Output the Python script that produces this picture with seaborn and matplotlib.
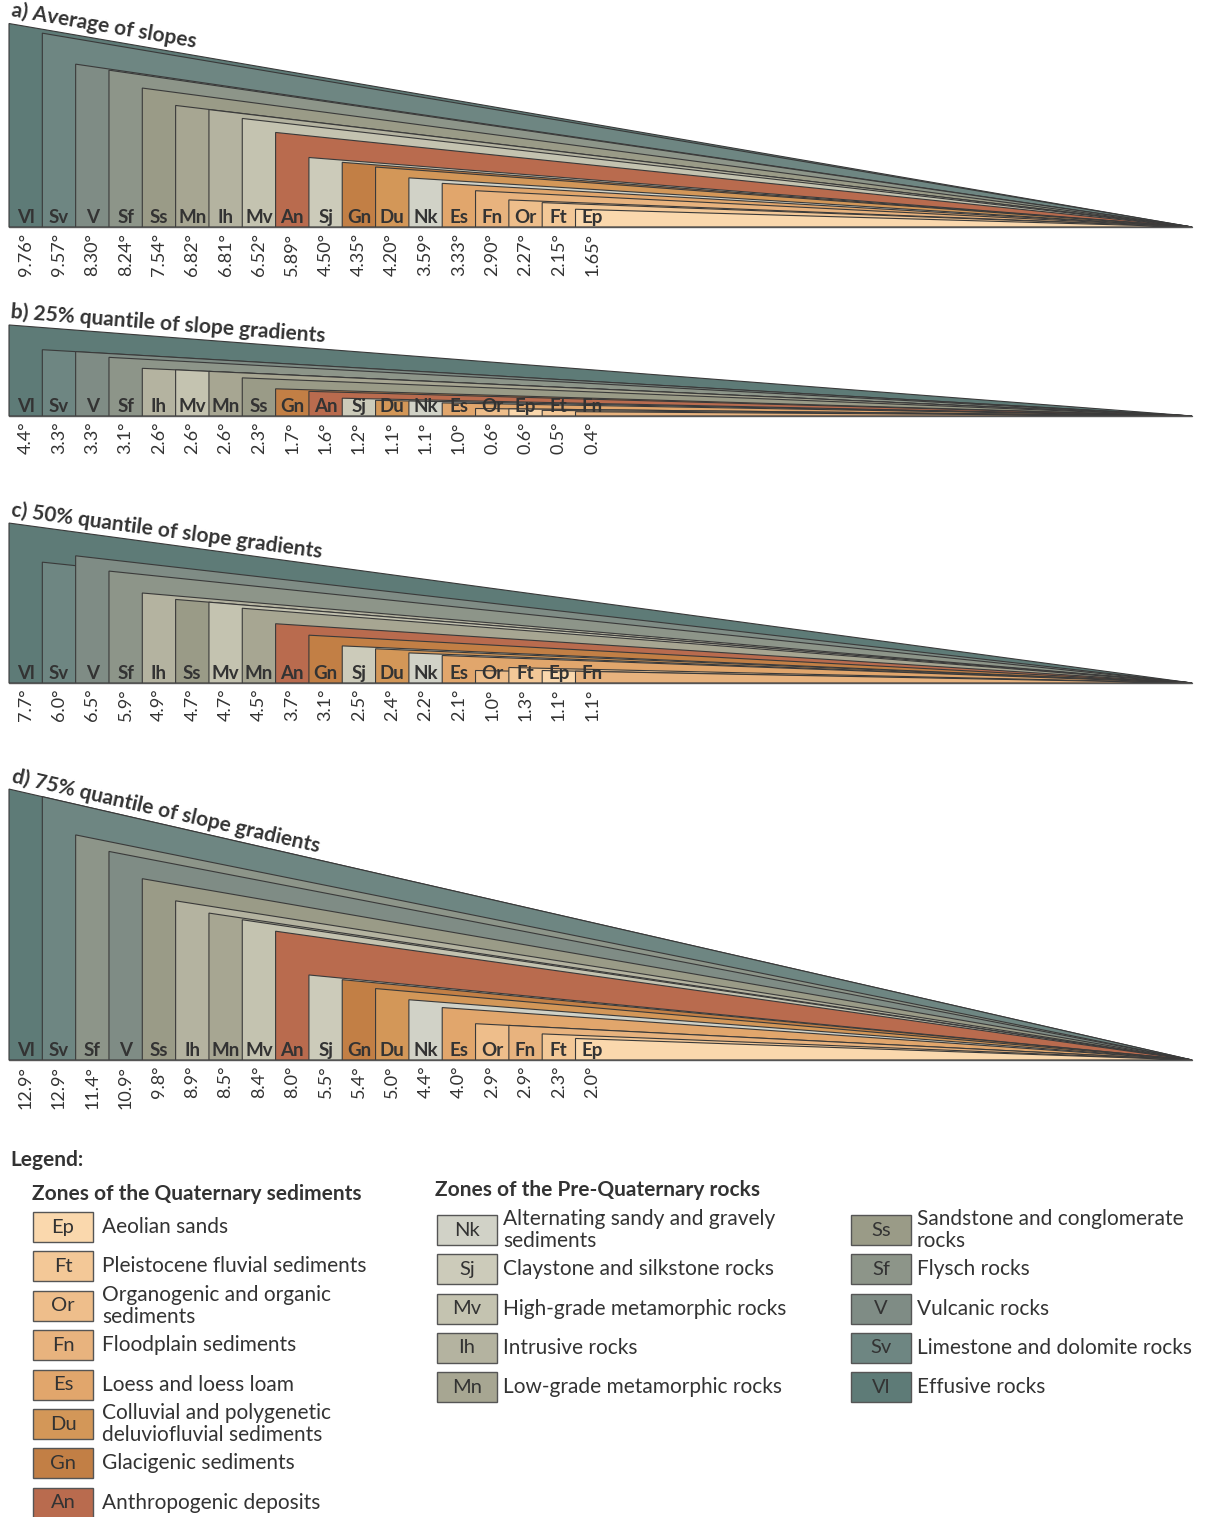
import numpy as np
import matplotlib.pyplot as plt
import seaborn as sns
from matplotlib.patches import Rectangle

sns.set_theme(style="white")
plt.rcParams['font.family'] = ['Lato', 'DejaVu Sans']

# ---- data (slope in degrees per zone, ordered as in each panel) ----
a_codes = ['Vl', 'Sv', 'V', 'Sf', 'Ss', 'Mn', 'Ih', 'Mv', 'An', 'Sj', 'Gn', 'Du', 'Nk', 'Es', 'Fn', 'Or', 'Ft', 'Ep']
a_vals = [9.76, 9.57, 8.30, 8.24, 7.54, 6.82, 6.81, 6.52, 5.89, 4.50, 4.35, 4.20, 3.59, 3.33, 2.90, 2.27, 2.15, 1.65]

b_codes = ['Vl', 'Sv', 'V', 'Sf', 'Ih', 'Mv', 'Mn', 'Ss', 'Gn', 'An', 'Sj', 'Du', 'Nk', 'Es', 'Or', 'Ep', 'Ft', 'Fn']
b_vals = [4.4, 3.3, 3.3, 3.1, 2.6, 2.6, 2.6, 2.3, 1.7, 1.6, 1.2, 1.1, 1.1, 1.0, 0.6, 0.6, 0.5, 0.4]

c_codes = ['Vl', 'Sv', 'V', 'Sf', 'Ih', 'Ss', 'Mv', 'Mn', 'An', 'Gn', 'Sj', 'Du', 'Nk', 'Es', 'Or', 'Ft', 'Ep', 'Fn']
c_vals = [7.7, 6.0, 6.5, 5.9, 4.9, 4.7, 4.7, 4.5, 3.7, 3.1, 2.5, 2.4, 2.2, 2.1, 1.0, 1.3, 1.1, 1.1]

d_codes = ['Vl', 'Sv', 'Sf', 'V', 'Ss', 'Ih', 'Mn', 'Mv', 'An', 'Sj', 'Gn', 'Du', 'Nk', 'Es', 'Or', 'Fn', 'Ft', 'Ep']
d_vals = [12.9, 12.9, 11.4, 10.9, 9.8, 8.9, 8.5, 8.4, 8.0, 5.5, 5.4, 5.0, 4.4, 4.0, 2.9, 2.9, 2.3, 2.0]

panel_titles = ['a) Average of slopes', 'b) 25% quantile of slope gradients',
                'c) 50% quantile of slope gradients', 'd) 75% quantile of slope gradients']
panel_decimals = [2, 1, 1, 1]

zone_colors = {
    'Vl': '#5e7b77', 'Sv': '#6e8682', 'V': '#7f8c85', 'Sf': '#8d9589',
    'Ss': '#9a9b87', 'Mn': '#a7a692', 'Ih': '#b4b3a0', 'Mv': '#c4c3b0',
    'Sj': '#cccbba', 'Nk': '#d1d2c7', 'An': '#b96b4e', 'Gn': '#c27f45',
    'Du': '#d39758', 'Es': '#e1a66c', 'Fn': '#e8b37e', 'Or': '#eebe8b',
    'Ft': '#f3c897', 'Ep': '#fad8ad',
}

quat_codes = ['Ep', 'Ft', 'Or', 'Fn', 'Es', 'Du', 'Gn', 'An']
quat_names = ['Aeolian sands', 'Pleistocene fluvial sediments', 'Organogenic and organic\nsediments',
              'Floodplain sediments', 'Loess and loess loam',
              'Colluvial and polygenetic\ndeluviofluvial sediments', 'Glacigenic sediments',
              'Anthropogenic deposits']
pre1_codes = ['Nk', 'Sj', 'Mv', 'Ih', 'Mn']
pre1_names = ['Alternating sandy and gravely\nsediments', 'Claystone and silkstone rocks',
              'High-grade metamorphic rocks', 'Intrusive rocks', 'Low-grade metamorphic rocks']
pre2_codes = ['Ss', 'Sf', 'V', 'Sv', 'Vl']
pre2_names = ['Sandstone and conglomerate\nrocks', 'Flysch rocks', 'Vulcanic rocks',
              'Limestone and dolomite rocks', 'Effusive rocks']

# ---- layout ----
W, H = 1206, 1517
fig = plt.figure(figsize=(W / 100, H / 100), dpi=100)
fig.patch.set_facecolor('white')

x_left, apex_px = 9, 1192
apex = 35.5                       # apex in column units
unit = (apex_px - x_left) / apex  # px per column
baselines = [227, 416, 683, 1060]
dark = '#333333'

panels = [(a_codes, a_vals), (b_codes, b_vals), (c_codes, c_vals), (d_codes, d_vals)]
for (codes, vals), base, title, dec in zip(panels, baselines, panel_titles, panel_decimals):
    heights = [np.tan(np.radians(v)) * (apex - i) for i, v in enumerate(vals)]
    ytop = max(heights) + 0.05
    ax = fig.add_axes([x_left / W, (H - base) / H, (apex_px - x_left) / W, ytop * unit / H])
    ax.set_xlim(0, apex)
    ax.set_ylim(0, ytop)
    ax.axis('off')
    for i, (c, h) in enumerate(zip(codes, heights)):
        ax.fill([i, i, apex], [0, h, 0], facecolor=zone_colors[c], edgecolor='#3a3a3a',
                linewidth=0.8, joinstyle='miter', clip_on=False)
    for i, (c, v) in enumerate(zip(codes, vals)):
        ax.text(i + 0.5, 0.02, c, ha='center', va='bottom', fontsize=13.5,
                fontweight='bold', color=dark, clip_on=False)
        ax.text(i + 0.5, -0.17, f"{v:.{dec}f}°", ha='center', va='top', rotation=90,
                fontsize=13, color=dark, clip_on=False)
    ax.plot([0, apex], [0, 0], color='#555555', lw=1.0, clip_on=False)
    ax.text(0.02, heights[0] + 0.1, title, rotation=-vals[0], rotation_mode='anchor',
            ha='left', va='bottom', fontsize=15, fontweight='bold', color=dark,
            clip_on=False)

# ---- legend ----
def fx(px):
    return px / W

def fy(py):
    return 1 - py / H

fig.text(fx(10), fy(1160), 'Legend:', fontsize=15, fontweight='bold', color=dark, va='center')
fig.text(fx(32), fy(1194), 'Zones of the Quaternary sediments', fontsize=15,
         fontweight='bold', color=dark, va='center')
fig.text(fx(435), fy(1190), 'Zones of the Pre-Quaternary rocks', fontsize=15,
         fontweight='bold', color=dark, va='center')


def legend_column(codes, names, x_sw, x_txt, y0, step):
    for k, (c, n) in enumerate(zip(codes, names)):
        yc = y0 + k * step
        fig.patches.append(Rectangle((fx(x_sw), fy(yc + 15)), 60 / W, 30 / H,
                                     transform=fig.transFigure, facecolor=zone_colors[c],
                                     edgecolor='#555555', linewidth=1.0))
        fig.text(fx(x_sw + 30), fy(yc), c, ha='center', va='center', fontsize=14.5,
                 color=dark)
        fig.text(fx(x_txt), fy(yc), n, ha='left', va='center', fontsize=15,
                 color=dark, linespacing=1.15)


legend_column(quat_codes, quat_names, 33, 102, 1227, 39.4)
legend_column(pre1_codes, pre1_names, 437, 503, 1230, 39.3)
legend_column(pre2_codes, pre2_names, 851, 917, 1230, 39.3)

fig.savefig('out.png', dpi=100, facecolor='white')
